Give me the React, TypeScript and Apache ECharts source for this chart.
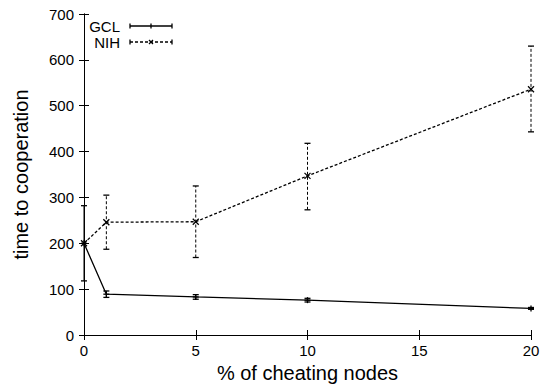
import React, { useEffect, useRef } from "react";
import * as echarts from "echarts";

const xValues = [0, 1, 5, 10, 20];
const gclMean = [200, 89, 83, 76, 58];
const gclLow = [118, 82, 78, 72, 56];
const gclHigh = [282, 96, 88, 80, 60];
const nihMean = [200, 246, 247, 347, 536];
const nihLow = [200, 187, 169, 273, 443];
const nihHigh = [200, 305, 325, 418, 630];
const xTicks = [0, 5, 10, 15, 20];
const yTicks = [0, 100, 200, 300, 400, 500, 600, 700];

const FONT = "Liberation Sans, Arial, Helvetica, sans-serif";

function errRender(kind: "plus" | "cross", dash: number[] | null) {
  return (params: any, api: any) => {
    const x = api.value(0);
    const m = api.value(1);
    const lo = api.value(2);
    const hi = api.value(3);
    const pm = api.coord([x, m]);
    const pl = api.coord([x, lo]);
    const ph = api.coord([x, hi]);
    const style = { stroke: "#000", lineWidth: 1, lineDash: dash || undefined };
    const solid = { stroke: "#000", lineWidth: 1.3 };
    const c = 3;
    const s = 3;
    const children: any[] = [];
    if (hi !== lo) {
      children.push(
        { type: "line", shape: { x1: pl[0], y1: pl[1], x2: ph[0], y2: ph[1] }, style },
        { type: "line", shape: { x1: pl[0] - c, y1: pl[1], x2: pl[0] + c, y2: pl[1] }, style: solid },
        { type: "line", shape: { x1: ph[0] - c, y1: ph[1], x2: ph[0] + c, y2: ph[1] }, style: solid }
      );
    }
    if (kind === "plus") {
      children.push(
        { type: "line", shape: { x1: pm[0] - s, y1: pm[1], x2: pm[0] + s, y2: pm[1] }, style: solid },
        { type: "line", shape: { x1: pm[0], y1: pm[1] - s, x2: pm[0], y2: pm[1] + s }, style: solid }
      );
    } else {
      children.push(
        { type: "line", shape: { x1: pm[0] - s, y1: pm[1] - s, x2: pm[0] + s, y2: pm[1] + s }, style: solid },
        { type: "line", shape: { x1: pm[0] - s, y1: pm[1] + s, x2: pm[0] + s, y2: pm[1] - s }, style: solid }
      );
    }
    return { type: "group", children };
  };
}

export default function App() {
  const ref = useRef<HTMLDivElement>(null);
  useEffect(() => {
    if (!ref.current) return;
    const chart = echarts.init(ref.current, null, { renderer: "svg" });
    const gclLine = xValues.map((x, i) => [x, gclMean[i]]);
    const nihLine = xValues.map((x, i) => [x, nihMean[i]]);
    const gclErr = xValues.map((x, i) => [x, gclMean[i], gclLow[i], gclHigh[i]]);
    const nihErr = xValues.map((x, i) => [x, nihMean[i], nihLow[i], nihHigh[i]]);
    const axisLine = { show: true, lineStyle: { color: "#000", width: 1 } };
    const tick = { show: true, inside: true, length: 5, lineStyle: { color: "#000" } };
    chart.setOption({
      animation: false,
      grid: { left: 84, right: 12, top: 14, bottom: 53 },
      xAxis: [
        {
          type: "value",
          min: xTicks[0],
          max: xTicks[xTicks.length - 1],
          interval: 5,
          name: "% of cheating nodes",
          nameLocation: "middle",
          nameGap: 28,
          nameTextStyle: { fontFamily: FONT, fontSize: 20, color: "#000" },
          axisLine,
          axisTick: tick,
          splitLine: { show: false },
          axisLabel: { fontFamily: FONT, fontSize: 15, color: "#000", margin: 8 },
        },
        {
          type: "value",
          position: "top",
          min: xTicks[0],
          max: xTicks[xTicks.length - 1],
          interval: 5,
          axisLine,
          axisTick: tick,
          splitLine: { show: false },
          axisLabel: { show: false },
        },
      ],
      yAxis: [
        {
          type: "value",
          min: yTicks[0],
          max: yTicks[yTicks.length - 1],
          interval: 100,
          name: "time to cooperation",
          nameLocation: "middle",
          nameGap: 53,
          nameTextStyle: { fontFamily: FONT, fontSize: 20, color: "#000" },
          axisLine,
          axisTick: tick,
          splitLine: { show: false },
          axisLabel: { fontFamily: FONT, fontSize: 15, color: "#000", margin: 10 },
        },
        {
          type: "value",
          position: "right",
          min: yTicks[0],
          max: yTicks[yTicks.length - 1],
          interval: 100,
          axisLine,
          axisTick: tick,
          splitLine: { show: false },
          axisLabel: { show: false },
        },
      ],
      series: [
        {
          type: "line",
          name: "GCL",
          data: gclLine,
          showSymbol: false,
          lineStyle: { color: "#000", width: 1.3 },
          z: 3,
        },
        {
          type: "line",
          name: "NIH",
          data: nihLine,
          showSymbol: false,
          lineStyle: { color: "#000", width: 1.3, type: [3, 2] },
          z: 3,
        },
        {
          type: "custom",
          name: "GCL err",
          data: gclErr,
          renderItem: errRender("plus", null),
          encode: { x: 0, y: [1, 2, 3] },
          z: 4,
        },
        {
          type: "custom",
          name: "NIH err",
          data: nihErr,
          renderItem: errRender("cross", [3, 2]),
          encode: { x: 0, y: [1, 2, 3] },
          z: 4,
        },
      ],
      graphic: [
        { type: "text", x: 120, y: 26, style: { text: "GCL", fontFamily: FONT, fontSize: 15, fill: "#000", align: "right", verticalAlign: "middle" } },
        { type: "text", x: 120, y: 42, style: { text: "NIH", fontFamily: FONT, fontSize: 15, fill: "#000", align: "right", verticalAlign: "middle" } },
        { type: "line", shape: { x1: 130, y1: 26, x2: 172, y2: 26 }, style: { stroke: "#000", lineWidth: 1.3 } },
        { type: "line", shape: { x1: 130, y1: 23.5, x2: 130, y2: 28.5 }, style: { stroke: "#000", lineWidth: 1.3 } },
        { type: "line", shape: { x1: 172, y1: 23.5, x2: 172, y2: 28.5 }, style: { stroke: "#000", lineWidth: 1.3 } },
        { type: "line", shape: { x1: 151, y1: 23.5, x2: 151, y2: 28.5 }, style: { stroke: "#000", lineWidth: 1.3 } },
        { type: "line", shape: { x1: 130, y1: 42, x2: 172, y2: 42 }, style: { stroke: "#000", lineWidth: 1.3, lineDash: [3, 2] } },
        { type: "line", shape: { x1: 130, y1: 39.5, x2: 130, y2: 44.5 }, style: { stroke: "#000", lineWidth: 1.3 } },
        { type: "line", shape: { x1: 172, y1: 39.5, x2: 172, y2: 44.5 }, style: { stroke: "#000", lineWidth: 1.3 } },
        { type: "line", shape: { x1: 149, y1: 40, x2: 153, y2: 44 }, style: { stroke: "#000", lineWidth: 1.3 } },
        { type: "line", shape: { x1: 149, y1: 44, x2: 153, y2: 40 }, style: { stroke: "#000", lineWidth: 1.3 } },
      ],
    });
    return () => chart.dispose();
  }, []);
  return <div ref={ref} style={{ width: 543, height: 388, position: "absolute", left: 0, top: 0, background: "#fff" }} />;
}
